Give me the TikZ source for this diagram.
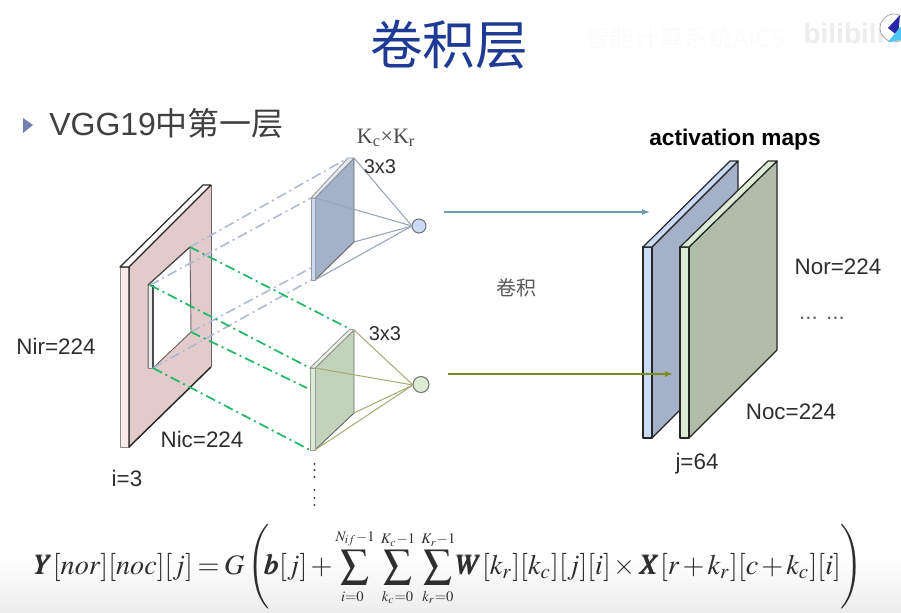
\documentclass[tikz,border=0pt]{standalone}
\usepackage[no-math]{fontspec}
\usepackage{amsmath,amssymb}
\usepackage{mathptmx}
\usepackage{bm}
\usepackage{xcolor}
\usepackage{graphicx}
\setmainfont{Liberation Sans}
\newfontfamily\cjkfont{Noto Sans CJK SC}
\newfontfamily\serifkfont{Liberation Serif}
\usetikzlibrary{arrows.meta, calc, positioning}
\definecolor{framepink}{HTML}{E3CBCB}
\definecolor{stripPink}{HTML}{FBEBEB}
\definecolor{faceblue}{HTML}{A3B1C9}
\definecolor{stripblue}{HTML}{C9DAF5}
\definecolor{facegreen}{HTML}{B0BDA8}
\definecolor{stripgreen}{HTML}{DCEBD3}
\definecolor{kernelgreen}{HTML}{C2D3BC}
\definecolor{linkblue}{HTML}{AEB9D3}
\definecolor{linkgreen}{HTML}{22B868}
\definecolor{fanblue}{HTML}{97A5BA}
\definecolor{fangreen}{HTML}{A9AD78}
\definecolor{titleblue}{HTML}{1E3A94}
\definecolor{inkgray}{HTML}{2E2E2E}
\definecolor{arrowblue}{HTML}{6E9DB5}
\definecolor{arrowolive}{HTML}{7C8B1E}
\definecolor{bulletblue}{HTML}{7080B0}
\newcommand{\limtxt}[1]{\scalebox{.7}{$\scriptstyle #1$}}

\begin{document}
\begin{tikzpicture}[x=0.75pt, y=-0.75pt,
  every node/.style={align=center, text=inkgray, inner sep=0pt},
  label16/.style={font=\fontsize{16.8}{18}\selectfont},
  edge/.style={draw=black!85, line width=0.9pt, line join=round},
  softedge/.style={draw=black!45, line width=0.6pt, line join=round},
  thinedge/.style={draw=black!60, line width=0.7pt, line join=round},
  linkB/.style={draw=linkblue, line width=1.2pt, dash pattern=on 7.5pt off 3pt on 1.5pt off 3pt},
  linkG/.style={draw=linkgreen, line width=1.3pt, dash pattern=on 7.5pt off 3pt on 1.5pt off 3pt},
  fanB/.style={draw=fanblue, line width=0.8pt},
  fanG/.style={draw=fangreen, line width=0.8pt},
  unit/.style={circle, draw=black!55, line width=0.8pt, minimum size=10.5pt},
  dotmark/.style={circle, fill=black!75, minimum size=1.8pt}]
\useasboundingbox (0,0) rectangle (901,612);
\shade[top color=white, bottom color=black!7] (0,555) rectangle (901,612);

% watermark
\node[font=\cjkfont\fontsize{18.5}{18.5}\selectfont, text=black!1.5] (mark) at (685,38) {智能计算系统AICS};
\node[font=\bfseries\fontsize{21}{21}\selectfont, text=black!7] (site) at (844,33) {bilibili};
\begin{scope}
\clip (0,0) rectangle (901,612);
\draw[draw=black!40, fill=white, line width=0.5pt] (894,28) circle (14);
\fill[blue!60!black!85] (888,28) -- (900,15) -- (898,36) -- cycle;
\fill[cyan!70] (888,42) -- (901,26) -- (901,40) -- cycle;
\end{scope}

% title and heading
\node[font=\cjkfont\fontsize{39.5}{40}\selectfont, text=titleblue] (title) at (449,45) {卷积层};
\fill[bulletblue] (23,118) -- (33,125) -- (23,133) -- cycle;
\node[font=\fontsize{24}{24}\selectfont, anchor=west, text=black!75] (head) at (49,123) {VGG19{\cjkfont 中第一层}};

% input volume
\coordinate (fA) at (120,267); \coordinate (fB) at (129,267);
\coordinate (fC) at (203,185); \coordinate (fD) at (211,185);
\coordinate (fE) at (211,367); \coordinate (fF) at (129,447);
\coordinate (fG) at (120,447);
\coordinate (hA) at (150,285); \coordinate (hB) at (190,247);
\coordinate (hC) at (191,332); \coordinate (hD) at (153,368);
\coordinate (hE) at (148,368); \coordinate (hF) at (148,285);
\coordinate (hG) at (153,285);
\fill[framepink] (fB) -- (fD) -- (fE) -- (fF) -- cycle;
\filldraw[softedge, fill=stripPink] (fA) -- (fB) -- (fF) -- (fG) -- cycle;
\filldraw[edge, fill=white] (fA) -- (fC) -- (fD) -- (fB) -- cycle;
\draw[edge, line width=1.1pt] (fB) -- (fF) -- (fE);
\draw[thinedge] (fD) -- (fE);
\filldraw[thinedge, fill=white] (hF) -- (hB) -- (hC) -- (hD) -- (hE) -- cycle;
\filldraw[softedge, fill=black!8] (hF) -- (hG) -- (hD) -- (hE) -- cycle;
\draw[edge, draw=black!70] (hG) -- (hD);
\draw[edge, draw=black!70] (hF) -- (hB);

% upper kernel
\coordinate (bA) at (311,198); \coordinate (bB) at (315,198);
\coordinate (bC) at (348,158); \coordinate (bD) at (354,158);
\coordinate (bE) at (354,242); \coordinate (bF) at (315,280);
\coordinate (bG) at (311,280); \coordinate (bH) at (311,268);
\filldraw[thinedge, fill=faceblue] (bB) -- (bD) -- (bE) -- (bF) -- cycle;
\filldraw[thinedge, draw=black!40, fill=stripblue] (bA) -- (bB) -- (bF) -- (bG) -- cycle;
\filldraw[thinedge, draw=black!40, fill=stripblue!50] (bA) -- (bC) -- (bD) -- (bB) -- cycle;
\node[unit, fill=stripblue] (nB) at (419,226) {};
\coordinate (tipB) at (412,226);
\foreach \c in {bB,bD,bE,bF}
  \draw[fanB] (\c) -- (tipB);

% lower kernel
\coordinate (gA) at (310,368); \coordinate (gB) at (315,368);
\coordinate (gC) at (350,329); \coordinate (gD) at (354,330);
\coordinate (gE) at (354,413); \coordinate (gF) at (315,450);
\coordinate (gG) at (310,450); \coordinate (gH) at (307,388);
\filldraw[thinedge, fill=kernelgreen] (gB) -- (gD) -- (gE) -- (gF) -- cycle;
\filldraw[thinedge, draw=black!40, fill=stripgreen] (gA) -- (gB) -- (gF) -- (gG) -- cycle;
\filldraw[thinedge, draw=black!40, fill=stripgreen!50] (gA) -- (gC) -- (gD) -- (gB) -- cycle;
\node[unit, minimum size=12pt, fill=stripgreen] (nG) at (421,384.5) {};
\coordinate (tipG) at (413,385);
\foreach \c in {gB,gD,gE,gF}
  \draw[fanG] (\c) -- (tipG);

% dash-dot links
\draw[linkB] (hB) -- (bC);
\draw[linkB] (hA) -- (bA);
\draw[linkB] (hC) -- (bH);
\draw[linkB] (hD) -- (bG);
\draw[linkG] (hB) -- (gC);
\draw[linkG] (hA) -- (gA);
\draw[linkG] (hC) -- (gH);
\draw[linkG] (hD) -- (gG);

% dots under the lower kernel
\foreach \y in {464,470,477,490,498,505}
  \node[dotmark] (dot\y) at (314.5,\y) {};

% activation maps
\coordinate (mA) at (643,247); \coordinate (mB) at (652,247);
\coordinate (mC) at (730,161); \coordinate (mD) at (738,161);
\coordinate (mE) at (738,352); \coordinate (mF) at (652,438);
\coordinate (mG) at (643,438);
\filldraw[edge, fill=faceblue] (mB) -- (mD) -- (mE) -- (mF) -- cycle;
\filldraw[edge, fill=stripblue] (mA) -- (mB) -- (mF) -- (mG) -- cycle;
\filldraw[edge, fill=stripblue] (mA) -- (mC) -- (mD) -- (mB) -- cycle;
\coordinate (aA) at (680,247); \coordinate (aB) at (689,247);
\coordinate (aC) at (768,161); \coordinate (aD) at (777,161);
\coordinate (aE) at (777,350); \coordinate (aF) at (689,438);
\coordinate (aG) at (680,438);
\filldraw[edge, fill=facegreen] (aB) -- (aD) -- (aE) -- (aF) -- cycle;
\filldraw[edge, fill=stripgreen] (aA) -- (aB) -- (aF) -- (aG) -- cycle;
\filldraw[edge, fill=stripgreen] (aA) -- (aC) -- (aD) -- (aB) -- cycle;

% arrows
\coordinate (outB) at (444,212); \coordinate (inB) at (650,212);
\coordinate (outG) at (448,374); \coordinate (inG) at (673,374);
\draw[-{Latex[length=6pt,width=4.5pt]}, draw=arrowblue, line width=0.9pt] (outB) -- (inB);
\draw[-{Latex[length=6pt,width=4.5pt]}, draw=arrowolive, line width=1.1pt] (outG) -- (inG);

% labels
\node[font=\serifkfont\fontsize{16.5}{17}\selectfont, text=black!70] (kk) at (386,138) {K\textsubscript{c}×K\textsubscript{r}};
\node[font=\fontsize{15}{16}\selectfont] (kB) at (380,167) {3x3};
\node[font=\fontsize{15}{16}\selectfont] (kG) at (385,334) {3x3};
\node[font=\bfseries\fontsize{17}{18}\selectfont, text=black] (amaps) at (735,139.5) {activation maps};
\node[font=\cjkfont\fontsize{15}{16}\selectfont, text=black!65] (conv) at (516,288) {卷积};
\node[label16] (nir) at (56,346) {Nir=224};
\node[label16] (nic) at (202,439) {Nic=224};
\node[label16] (idx) at (127,478) {i=3};
\node[label16] (jdx) at (697,464) {j=64};
\node[label16] (nor) at (838,267) {Nor=224};
\node[label16] (noc) at (791,412) {Noc=224};
\node[label16, text=black!60] (more) at (822,318) {... ...};

% formula
\node (eq) at (448.5,567) {\resizebox{622pt}{!}{\medmuskip=2mu\thickmuskip=3mu$\bm{Y}[\mathit{nor}][\mathit{noc}][j]=G\left(\!\!\bm{b}[j]+\displaystyle\sum_{\limtxt{i=0}}^{\limtxt{N_{if}-1}}\,\sum_{\limtxt{k_c=0}}^{\limtxt{K_c-1}}\,\sum_{\limtxt{k_r=0}}^{\limtxt{K_r-1}}\!\bm{W}[k_r][k_c][j][i]\times\bm{X}[r+k_r][c+k_c][i]\right)$}};
\end{tikzpicture}
\end{document}
